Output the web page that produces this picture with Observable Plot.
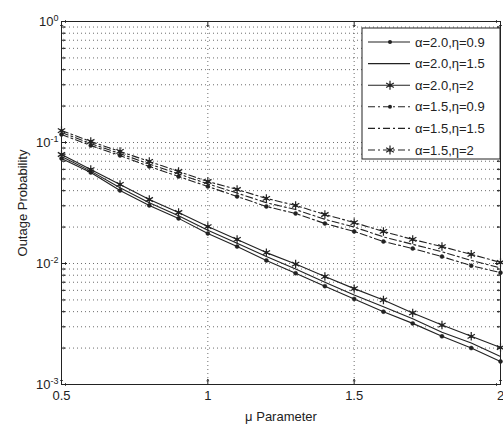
<!DOCTYPE html>
<html>
<head>
<meta charset="utf-8">
<script src="https://cdn.jsdelivr.net/npm/d3@7"></script>
<script src="https://cdn.jsdelivr.net/npm/@observablehq/plot@0.6"></script>
<style>
  html, body { margin: 0; padding: 0; background: #fff; }
  #chart svg { display: block; font-family: "Liberation Sans", Arial, sans-serif; }
</style>
</head>
<body>
<div id="chart"></div>
<script>
// ---- data ----
const mu = [0.5, 0.6, 0.7, 0.8, 0.9, 1.0, 1.1, 1.2, 1.3, 1.4, 1.5, 1.6, 1.7, 1.8, 1.9, 2.0];
const seriesNames = ["α=2.0,η=0.9", "α=2.0,η=1.5", "α=2.0,η=2", "α=1.5,η=0.9", "α=1.5,η=1.5", "α=1.5,η=2"];
const a20_e09 = [0.0738, 0.0565, 0.0401, 0.0302, 0.0236, 0.0177, 0.0138, 0.0106, 0.0083, 0.0065, 0.0051, 0.0040, 0.0032, 0.0025, 0.0020, 0.00155];
const a20_e15 = [0.0765, 0.0580, 0.0422, 0.0318, 0.0248, 0.0188, 0.0147, 0.0114, 0.0090, 0.0070, 0.0055, 0.0044, 0.0035, 0.0027, 0.0022, 0.00170];
const a20_e20 = [0.0796, 0.0598, 0.0450, 0.0338, 0.0264, 0.0202, 0.0158, 0.0123, 0.0099, 0.0078, 0.0062, 0.0050, 0.0039, 0.0031, 0.0025, 0.00202];
const a15_e09 = [0.1165, 0.0944, 0.0781, 0.0634, 0.0524, 0.0433, 0.0358, 0.0296, 0.0259, 0.0214, 0.0184, 0.0152, 0.0133, 0.0114, 0.0096, 0.0084];
const a15_e15 = [0.1210, 0.0980, 0.0810, 0.0664, 0.0550, 0.0455, 0.0382, 0.0318, 0.0279, 0.0232, 0.0200, 0.0166, 0.0144, 0.0125, 0.0106, 0.0092];
const a15_e20 = [0.1256, 0.1019, 0.0843, 0.0697, 0.0576, 0.0476, 0.0409, 0.0345, 0.0302, 0.0254, 0.0218, 0.0184, 0.0158, 0.0138, 0.0119, 0.0102];
const seriesValues = [a20_e09, a20_e15, a20_e20, a15_e09, a15_e15, a15_e20];
const seriesDash = ["none", "none", "none", "7,3,2,3", "7,3,2,3", "7,3,2,3"];
const seriesMarker = ["dot", "none", "asterisk", "dot", "none", "asterisk"];

const xTicks = [0.5, 1, 1.5, 2];
const yMajor = [1e-3, 1e-2, 1e-1, 1];
const yMinor = [];
for (const d of [1e-3, 1e-2, 1e-1]) for (let k = 2; k <= 9; k++) yMinor.push(+(d * k).toPrecision(3));
const supers = {"1": "0", "0.1": "-1", "0.01": "-2", "0.001": "-3"};

// ---- table ----
const rows = [];
seriesNames.forEach((name, i) => {
  seriesValues[i].forEach((v, j) => rows.push({mu: mu[j], p: v, s: name}));
});

const ink = "#222";
const gridStyle = {stroke: "#333", strokeWidth: 0.8, strokeDasharray: "1,3", strokeOpacity: 0.9};

const marks = [
  Plot.ruleY(yMinor, {...gridStyle}),
  Plot.ruleY(yMajor.slice(1, 3), {...gridStyle}),
  Plot.ruleX(xTicks.slice(1, 3), {...gridStyle}),
  // inward ticks
  Plot.vector(yMajor, {y: d => d, frameAnchor: "left", rotate: 90, length: 5, anchor: "start", stroke: ink, strokeWidth: 1}),
  Plot.vector(yMinor, {y: d => d, frameAnchor: "left", rotate: 90, length: 3, anchor: "start", stroke: ink, strokeWidth: 1}),
  Plot.vector(yMajor, {y: d => d, frameAnchor: "right", rotate: -90, length: 5, anchor: "start", stroke: ink, strokeWidth: 1}),
  Plot.vector(yMinor, {y: d => d, frameAnchor: "right", rotate: -90, length: 3, anchor: "start", stroke: ink, strokeWidth: 1}),
  Plot.vector(xTicks, {x: d => d, frameAnchor: "bottom", rotate: 0, length: 5, anchor: "start", stroke: ink, strokeWidth: 1}),
  Plot.vector(xTicks, {x: d => d, frameAnchor: "top", rotate: 180, length: 5, anchor: "start", stroke: ink, strokeWidth: 1}),
];
seriesNames.forEach((name, i) => {
  const data = rows.filter(r => r.s === name);
  marks.push(Plot.line(data, {x: "mu", y: "p", stroke: ink, strokeWidth: 1.1, strokeDasharray: seriesDash[i] === "none" ? null : seriesDash[i]}));
  if (seriesMarker[i] === "dot") marks.push(Plot.dot(data, {x: "mu", y: "p", r: 2, fill: ink, stroke: ink, strokeWidth: 0.5}));
  if (seriesMarker[i] === "asterisk") {
    marks.push(Plot.dot(data, {x: "mu", y: "p", r: 4, symbol: "asterisk", stroke: ink, strokeWidth: 1.2}));
    marks.push(Plot.dot(data, {x: "mu", y: "p", r: 1.6, fill: ink}));
  }
});
marks.push(Plot.frame({stroke: ink, strokeWidth: 1}));
marks.push(Plot.axisX(xTicks, {tickSize: 0, tickPadding: 6, tickFormat: d => String(d), fontSize: 13, color: ink,
  label: "μ Parameter", labelAnchor: "center", labelArrow: "none", labelOffset: 36}));
marks.push(Plot.axisY(yMajor, {tickSize: 0, tickPadding: 3, tickFormat: d => "10^" + supers[String(d)], fontSize: 13, color: ink,
  label: "Outage Probability", labelAnchor: "center", labelArrow: "none", labelOffset: 44}));

const chart = Plot.plot({
  width: 503,
  height: 426,
  marginLeft: 61,
  marginRight: 3,
  marginTop: 21,
  marginBottom: 42,
  style: {fontFamily: "'Liberation Sans', Arial, sans-serif", fontSize: "13px", color: ink, background: "#fff"},
  x: {domain: [0.5, 2], axis: null},
  y: {type: "log", domain: [1e-3, 1], axis: null},
  marks
});
document.getElementById("chart").appendChild(chart);

// superscript exponents on y tick labels
const svg = d3.select(chart);
svg.selectAll("text").each(function () {
  const t = d3.select(this);
  const txt = t.text();
  if (txt.startsWith("10^")) {
    const exp = txt.slice(3);
    t.text(null);
    t.append("tspan").text("10");
    t.append("tspan").attr("dy", "-0.5em").attr("font-size", "9px").text(exp);
  }
});

// legend (layout element)
const lg = svg.append("g").attr("font-size", "13px").attr("fill", ink).attr("text-anchor", "start");
const lx = 362, ly = 28, lw = 138, lh = 131;
lg.append("rect").attr("x", lx).attr("y", ly).attr("width", lw).attr("height", lh).attr("fill", "#fff").attr("stroke", ink).attr("stroke-width", 1);
seriesNames.forEach((name, i) => {
  const y = ly + 14 + i * 21.6;
  lg.append("line").attr("x1", lx + 6).attr("x2", lx + 48).attr("y1", y).attr("y2", y)
    .attr("stroke", ink).attr("stroke-width", 1.1).attr("stroke-dasharray", seriesDash[i] === "none" ? null : seriesDash[i]);
  const cx = lx + 28;
  if (seriesMarker[i] === "dot") lg.append("circle").attr("cx", cx).attr("cy", y).attr("r", 2).attr("fill", ink);
  if (seriesMarker[i] === "asterisk") {
    lg.append("path").attr("transform", `translate(${cx},${y})`).attr("d", d3.symbol(d3.symbolAsterisk, 55)()).attr("stroke", ink).attr("stroke-width", 1.2).attr("fill", "none");
    lg.append("circle").attr("cx", cx).attr("cy", y).attr("r", 1.6).attr("fill", ink);
  }
  lg.append("text").attr("x", lx + 53).attr("y", y).attr("dy", "0.35em").attr("text-anchor", "start").text(name);
});
</script>
</body>
</html>
